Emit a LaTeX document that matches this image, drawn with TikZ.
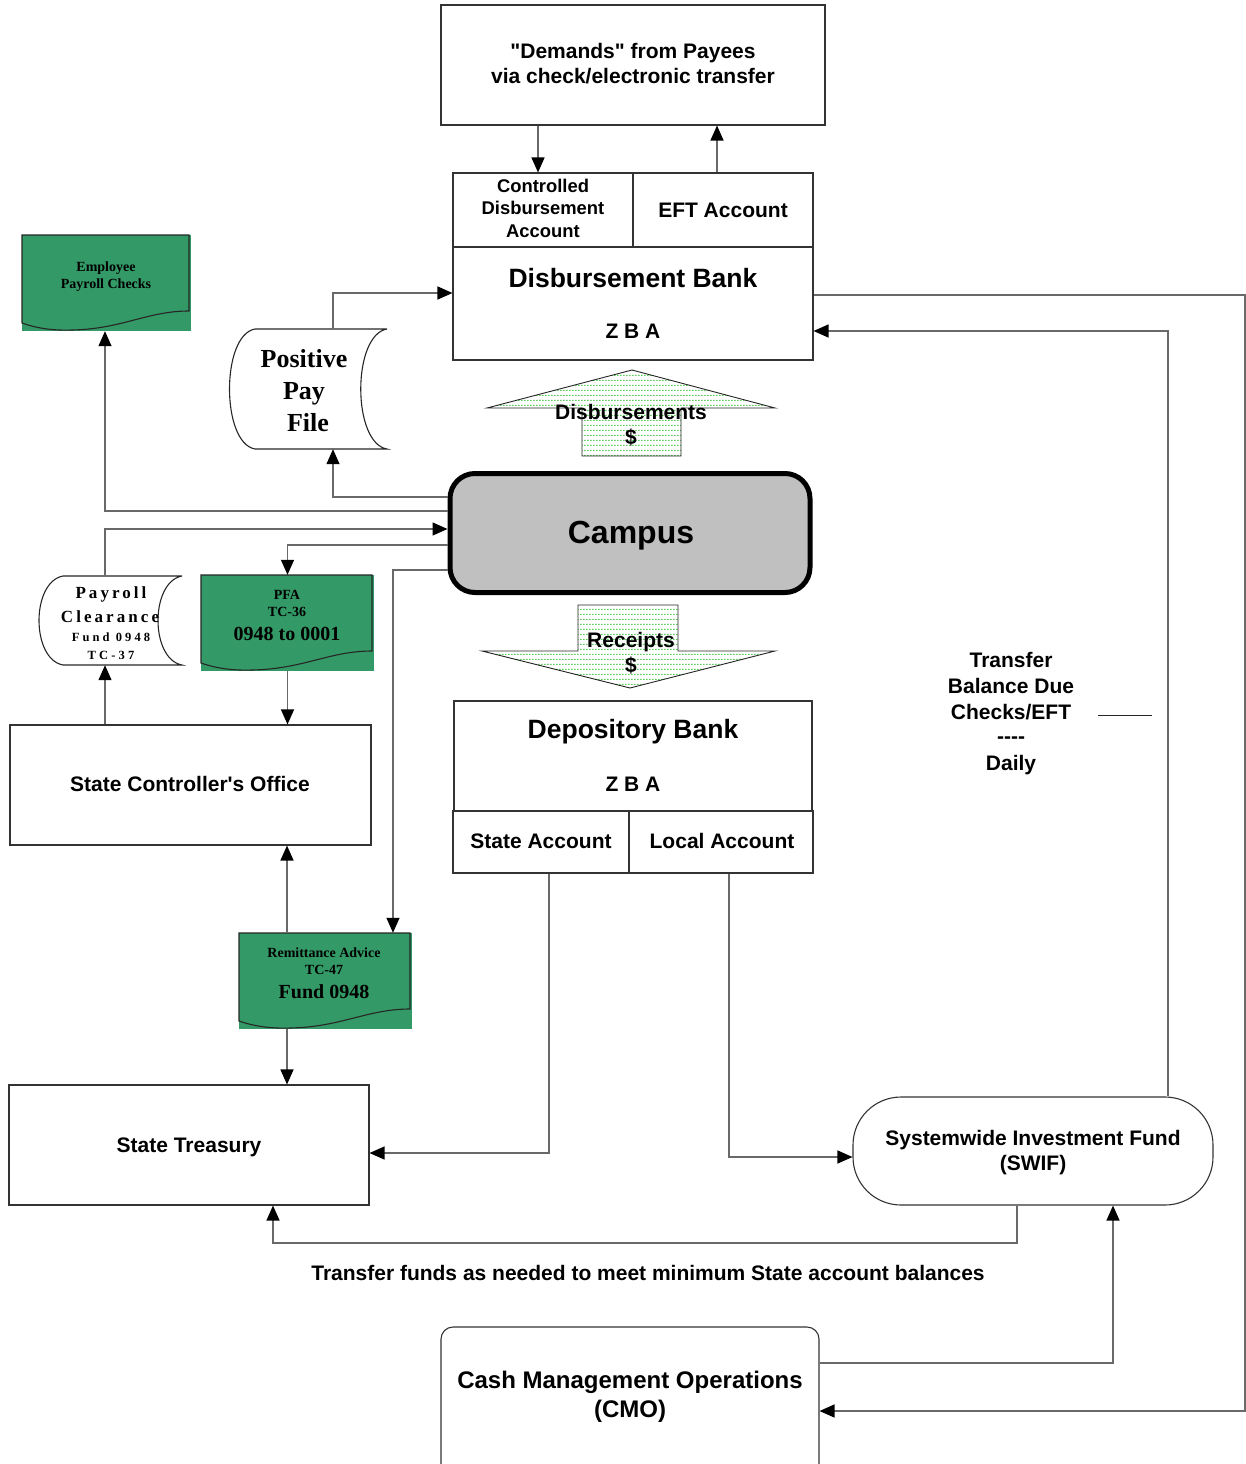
\documentclass[tikz,border=0pt]{standalone}
\usepackage{fontspec}
\setmainfont{Liberation Sans}[Ligatures=TeXOff]
\newfontfamily\tnr{Liberation Serif}[Ligatures=TeXOff]
\usetikzlibrary{arrows.meta,patterns,calc}
\definecolor{docgreen}{RGB}{51,153,102}
\definecolor{campgray}{RGB}{192,192,192}
\definecolor{linegray}{RGB}{105,105,105}
\definecolor{dotgreen}{RGB}{90,205,90}
\pgfdeclarepatternformonly{hdots}{\pgfqpoint{0pt}{0pt}}{\pgfqpoint{3.3pt}{4.5pt}}{\pgfqpoint{3.3pt}{4.5pt}}%
  {\pgfpathrectangle{\pgfqpoint{0pt}{0pt}}{\pgfqpoint{2pt}{1.3pt}}\pgfusepath{fill}}
\newcommand\fs[2]{\fontsize{#1}{#2}\selectfont}
\newcommand\docoutline[4]{%
  \draw[outl] (#1,#2) -- (#3,#2) -- (#3,{#4-20})
    .. controls ({#1+0.75*(#3-#1)},{#4-20}) and ({#1+0.6*(#3-#1)},{#4-2}) .. ({#1+0.3*(#3-#1)},{#4-1})
    .. controls ({#1+0.15*(#3-#1)},{#4}) and ({#1+0.05*(#3-#1)},{#4-5}) .. (#1,{#4-8}) -- cycle;}
\begin{document}
\begin{tikzpicture}[x=1pt,y=-1pt,
  box/.style={draw=black!80, line width=1.1pt, rectangle, inner sep=0pt},
  ghost/.style={rectangle, inner sep=0pt},
  conn/.style={draw=linegray, line width=1.3pt, -{Triangle[length=15pt,width=13pt,color=black]}},
  plain/.style={draw=linegray, line width=1.3pt},
  outl/.style={draw=black!85, line width=1.1pt},
  arrowshape/.style={draw=black!85, line width=0.9pt, preaction={fill=white}, pattern=hdots, pattern color=dotgreen},
  greenbg/.style={fill=docgreen, rectangle, inner sep=0pt},
  t/.style={inner sep=0pt, anchor=base, font=\bfseries\fs{21}{25}},
  tr/.style={inner sep=0pt, anchor=base, font=\tnr\bfseries\fs{14}{17}},
]
\useasboundingbox (0,0) rectangle (1246,1464);

% ---------- boxes ----------
\node[box, minimum width=384pt, minimum height=120pt] (demands) at (633,65) {};
\node[box, minimum width=180pt, minimum height=74pt] (cda) at (543,210) {};
\node[box, minimum width=180pt, minimum height=74pt] (eft) at (723,210) {};
\node[box, minimum width=360pt, minimum height=113pt] (dbank) at (633,303.5) {};

\node[draw=black, line width=5pt, fill=campgray, rounded corners=25pt,
      minimum width=360pt, minimum height=119pt, inner sep=0pt] (campus) at (630,533) {};

\node[box, minimum width=358pt, minimum height=110pt] (depbank) at (633,756) {};
\node[box, minimum width=176pt, minimum height=62pt] (stacct) at (541,842) {};
\node[box, minimum width=184pt, minimum height=62pt] (locacct) at (721,842) {};

\node[box, minimum width=361pt, minimum height=120pt] (sco) at (190.5,785) {};
\node[box, minimum width=360pt, minimum height=120pt] (treas) at (189,1145) {};
\node[box, rounded corners=48pt, minimum width=360pt, minimum height=108pt] (swif) at (1033,1151) {};
\node[box, rounded corners=12pt, minimum width=378pt, minimum height=168pt] (cmo) at (630,1411) {};

% ---------- green documents ----------
\node[greenbg, minimum width=169pt, minimum height=96pt] (emp) at (106.5,283) {};
\docoutline{22}{235}{189}{331}
\node[greenbg, minimum width=173pt, minimum height=96pt] (pfa) at (287.5,623) {};
\docoutline{201}{575}{372}{671}
\node[greenbg, minimum width=173pt, minimum height=96pt] (remit) at (325.5,981) {};
\docoutline{239}{933}{410}{1029}

% ---------- stored data shapes ----------
\node[ghost, minimum width=157pt, minimum height=120pt] (ppf) at (308.5,389) {};
\draw[outl] (387,329) -- (255,329) .. controls (221,335) and (221,443) .. (255,449)
  -- (387,449) .. controls (352,443) and (352,335) .. (387,329);
\node[ghost, minimum width=143pt, minimum height=89pt] (pcl) at (110.5,620.5) {};
\draw[outl] (182,576) -- (63,576) .. controls (31,582) and (31,659) .. (63,665)
  -- (182,665) .. controls (150,659) and (150,582) .. (182,576);

% ---------- big arrows ----------
\draw[arrowshape] (582,456) -- (582,408) -- (487,408) -- (632,370) -- (775,408) -- (681,408) -- (681,456) -- cycle;
\draw[arrowshape] (578,605) -- (678,605) -- (678,651) -- (775,651) -- (630,688) -- (482,651) -- (578,651) -- cycle;

% ---------- texts ----------
\node[t] (dem1) at (633,59) {"Demands" from Payees};
\node[t] (dem2) at (633,84) {via check/electronic transfer};
\node[t, font=\bfseries\fs{18.4}{22}] (cda1) at (543,192) {Controlled};
\node[t, font=\bfseries\fs{18.4}{22}] (cda2) at (543,214.5) {Disbursement};
\node[t, font=\bfseries\fs{18.4}{22}] (cda3) at (543,237) {Account};
\node[t] (eftl) at (723,217) {EFT Account};
\node[t, font=\bfseries\fs{26.5}{30}] (dbank1) at (633,287) {Disbursement Bank};
\node[t] (dbank2) at (633,338.5) {Z B A};

\node[tr] (emp1) at (106,271) {Employee};
\node[tr] (emp2) at (106,288) {Payroll Checks};

\node[t, font=\tnr\bfseries\fs{26}{30}] (ppf1) at (304,367) {Positive};
\node[t, font=\tnr\bfseries\fs{26}{30}] (ppf2) at (304,399) {Pay};
\node[t, font=\tnr\bfseries\fs{26}{30}] (ppf3) at (308,431) {File};

\node[t] (dis1) at (631,419) {Disbursements};
\node[t] (dis2) at (631,444) {\$};
\node[t, font=\bfseries\fs{32}{36}] (camp) at (631,543.5) {Campus};
\node[t] (rec1) at (631,647) {Receipts};
\node[t] (rec2) at (631,672) {\$};

\node[t, font=\tnr\bfseries\fs{17}{20}\addfontfeature{LetterSpace=18}] (pcl1) at (111,598.5) {Payroll};
\node[t, font=\tnr\bfseries\fs{17}{20}\addfontfeature{LetterSpace=18}] (pcl2) at (110,622.5) {Clearance};
\node[t, font=\tnr\bfseries\fs{12.5}{15}\addfontfeature{LetterSpace=25}] (pcl3) at (111,641.5) {Fund 0948};
\node[t, font=\tnr\bfseries\fs{12.5}{15}\addfontfeature{LetterSpace=25}] (pcl4) at (111,659.5) {TC-37};

\node[tr] (pfa1) at (287,599) {PFA};
\node[tr] (pfa2) at (287,616) {TC-36};
\node[tr, font=\tnr\bfseries\fs{20}{24}] (pfa3) at (287,640) {0948 to 0001};

\node[t, font=\bfseries\fs{26.5}{30}] (dep1) at (633,738) {Depository Bank};
\node[t] (dep2) at (633,791) {Z B A};
\node[t] (st1) at (541,848) {State Account};
\node[t] (lo1) at (722,848) {Local Account};

\node[t] (sco1) at (190,791) {State Controller's Office};

\node[t] (xf1) at (1011,667) {Transfer};
\node[t] (xf2) at (1011,693) {Balance Due};
\node[t] (xf3) at (1011,719) {Checks/EFT};
\node[t] (xf4) at (1011,743) {----};
\node[t] (xf5) at (1011,770) {Daily};
\draw[outl, line width=1pt] (1098,715) -- (1152,715);

\node[tr] (rem1) at (324,957) {Remittance Advice};
\node[tr] (rem2) at (324,974) {TC-47};
\node[tr, font=\tnr\bfseries\fs{20}{24}] (rem3) at (324,998) {Fund 0948};

\node[t] (tr1) at (189,1152) {State Treasury};
\node[t] (sw1) at (1033,1145) {Systemwide Investment Fund};
\node[t] (sw2) at (1033,1170) {(SWIF)};
\node[t] (xfer) at (648,1280) {Transfer funds as needed to meet minimum State account balances};
\node[t, font=\bfseries\fs{24}{29}] (cmo1) at (630,1388) {Cash Management Operations};
\node[t, font=\bfseries\fs{24}{29}] (cmo2) at (630,1417) {(CMO)};

% ---------- helper coordinates ----------
\coordinate (rail) at (1245,800);
\coordinate (lowrail) at (600,1243);

% ---------- connectors ----------
\draw[conn] ([xshift=-5pt]cda.north |- demands.south) -- ([xshift=-5pt]cda.north);
\draw[conn] ([xshift=-6pt]eft.north) -- ([xshift=-6pt]eft.north |- demands.south);
\draw[conn] ([xshift=24.5pt]ppf.north) |- ([yshift=10.5pt]dbank.west);
\draw[conn] ([yshift=36pt]campus.west) -| ([xshift=24.5pt]ppf.south);
\draw[conn] ([yshift=22pt]campus.west) -| ([xshift=-1.5pt]emp.south);
\draw[conn] ([xshift=-5.5pt]pcl.north) |- ([yshift=4pt]campus.west);
\draw[conn] ([yshift=-12pt]campus.west) -| (pfa.north);
\draw[conn] ([yshift=-37pt]campus.west) -| ([xshift=67.5pt]remit.north);
\draw[conn] (pfa.south) -- (pfa.south |- sco.north);
\draw[conn] ([xshift=-5.5pt]pcl.south |- sco.north) -- ([xshift=-5.5pt]pcl.south);
\draw[conn] ([xshift=-38.5pt]remit.north) -- ([xshift=-38.5pt]remit.north |- sco.south);
\draw[conn] ([xshift=-38.5pt]remit.south) -- ([xshift=-38.5pt]remit.south |- treas.north);
\draw[conn] ([xshift=8pt]stacct.south) |- ([yshift=-8pt]treas.east);
\draw[conn] ([xshift=8pt]locacct.south) |- ([yshift=-6pt]swif.west);
\draw[conn] ([xshift=135pt]swif.north) |- ([yshift=-27.5pt]dbank.east);
\draw[conn] ([yshift=8.5pt]dbank.east) -| (rail) |- (cmo.east);
\draw[conn] ([xshift=-16pt]swif.south) |- (lowrail) -| ([xshift=84pt]treas.south);
\draw[conn] ([yshift=48pt]cmo.east) -| ([xshift=80pt]swif.south);
\end{tikzpicture}
\end{document}
